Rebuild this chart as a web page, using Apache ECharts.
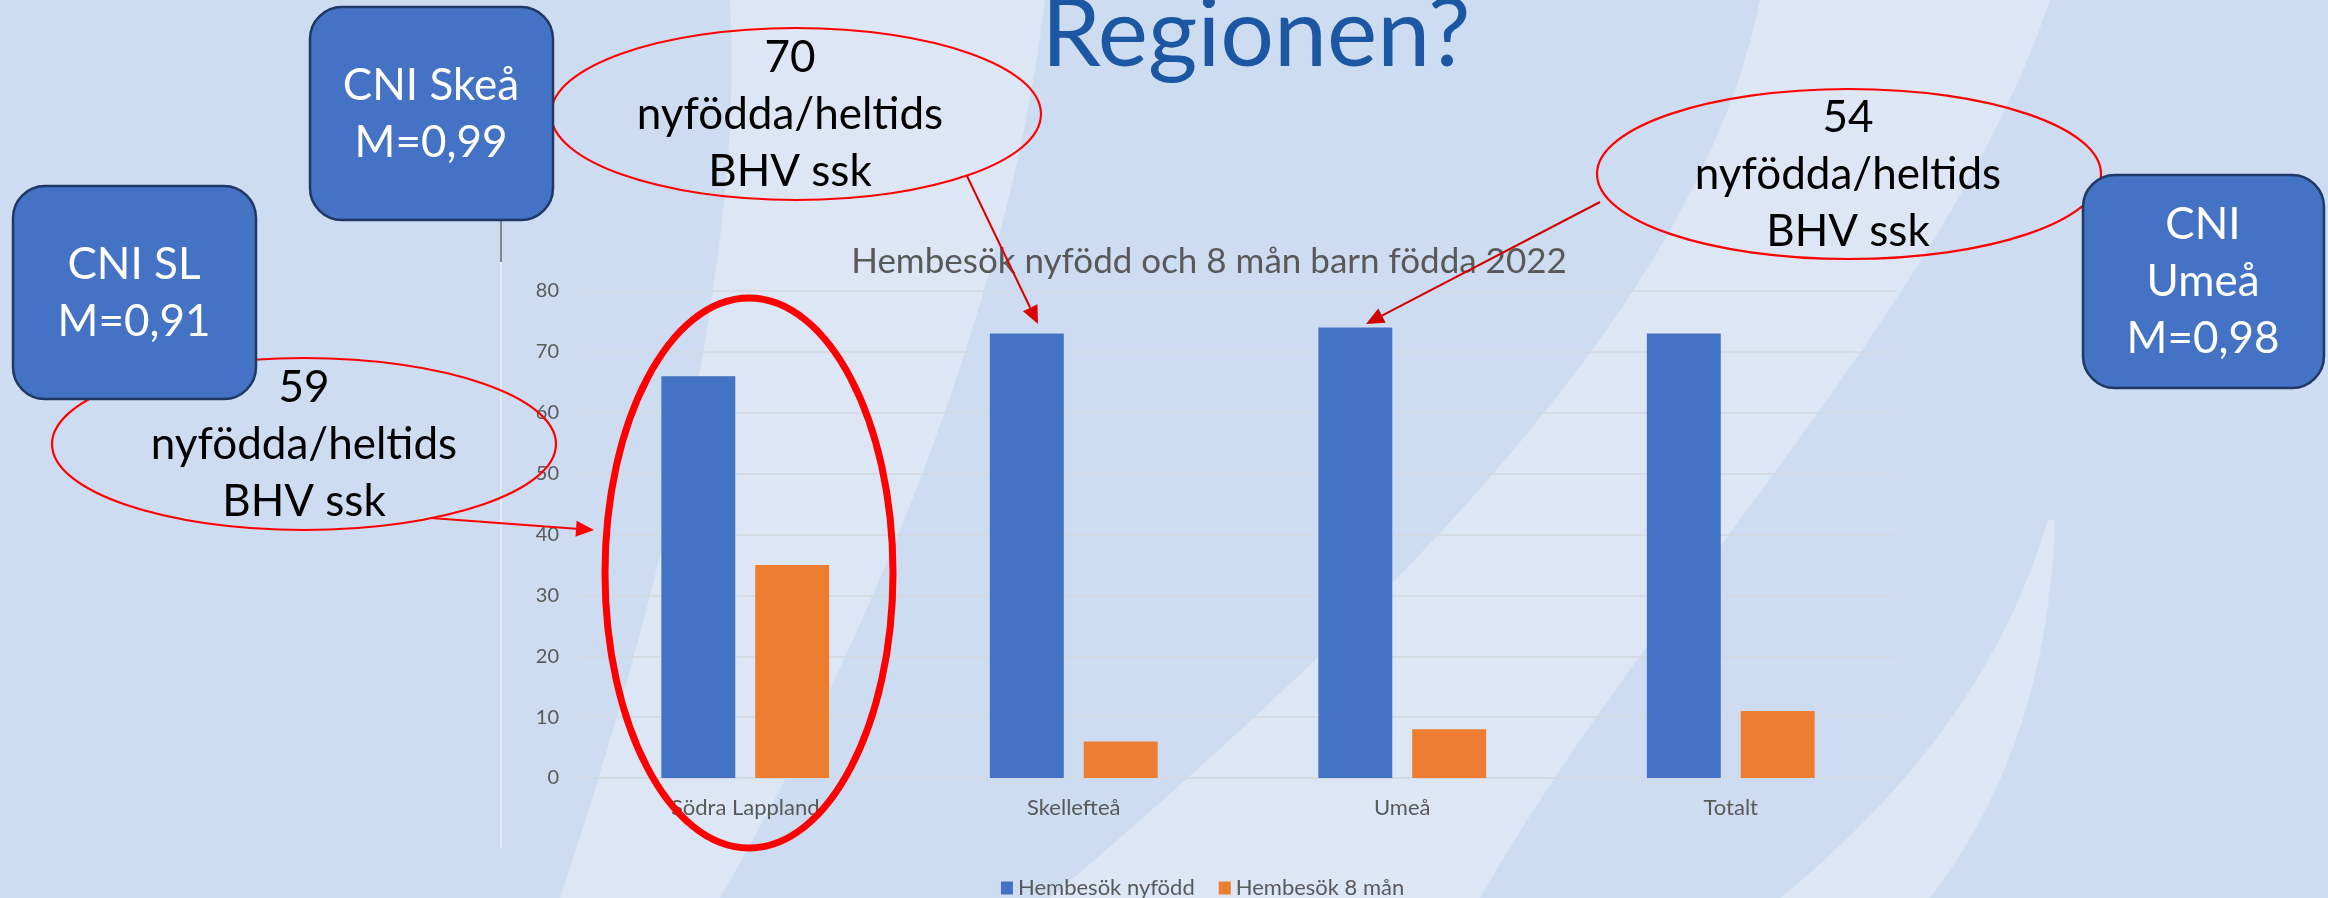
<!DOCTYPE html>
<html>
<head>
<meta charset="utf-8">
<title>Hembesök nyfödd och 8 mån</title>
<script src="https://cdn.jsdelivr.net/npm/echarts@6.0.0/dist/echarts.min.js"></script>
<style>
	html, body { margin: 0; padding: 0; background: #cedcf1; }
	#chart { width: 2328px; height: 898px; }
</style>
</head>
<body>
<div id="chart"></div>
<script>
// data
var categories = ['Södra Lappland', 'Skellefteå', 'Umeå', 'Totalt'];
var seriesNames = ['Hembesök nyfödd', 'Hembesök 8 mån'];
var hembesokNyfodd = [66, 73, 74, 73];
var hembesok8man = [35, 6, 8, 11];
var yMin = 0, yMax = 80, yStep = 10;
var chartTitle = 'Hembesök nyfödd och 8 mån barn födda 2022';
var slideTitle = 'Regionen?';

(function() {
	'use strict';

	var FONT = 'Lato, "Open Sans", sans-serif',
		GREY = '#595959',
		RED = '#ff0000';

	// bezier sampling for the background swooshes
	function bez(p, t) {
		var a = (1 - t) * (1 - t) * (1 - t), b = 3 * (1 - t) * (1 - t) * t,
			c = 3 * (1 - t) * t * t, d = t * t * t;
		return [a * p[0][0] + b * p[1][0] + c * p[2][0] + d * p[3][0],
			a * p[0][1] + b * p[1][1] + c * p[2][1] + d * p[3][1]];
	}
	function band(l, r) {
		var pts = [], i;
		for (i = 0; i <= 24; i++) pts.push(bez(l, i / 24));
		for (i = 24; i >= 0; i--) pts.push(bez(r, i / 24));
		return {
			type: 'polygon', z: -20, silent: true,
			shape: { points: pts },
			style: { fill: '#dce6f4' }
		};
	}

	function arrow(x1, y1, x2, y2, color) {
		var dx = x2 - x1, dy = y2 - y1,
			len = Math.sqrt(dx * dx + dy * dy),
			ux = dx / len, uy = dy / len,
			hl = 18, hw = 8,
			bx = x2 - ux * hl, by = y2 - uy * hl;
		return [{
			type: 'line', z: 30, silent: true,
			shape: { x1: x1, y1: y1, x2: bx, y2: by },
			style: { stroke: color, lineWidth: 2 }
		}, {
			type: 'polygon', z: 30, silent: true,
			shape: { points: [[x2, y2], [bx - uy * hw, by + ux * hw], [bx + uy * hw, by - ux * hw]] },
			style: { fill: color }
		}];
	}

	function label(text, x, y, color, size, weight) {
		return {
			type: 'text', z: 40, silent: true,
			style: {
				text: text, x: x, y: y,
				fill: color,
				fontSize: size || 44,
				fontFamily: FONT,
				fontWeight: weight || 'normal',
				lineHeight: 57,
				align: 'center', verticalAlign: 'middle',
				textAlign: 'center', textVerticalAlign: 'middle'
			}
		};
	}

	function box(x, y, w, h) {
		return {
			type: 'rect', z: 35, silent: true,
			shape: { x: x, y: y, width: w, height: h, r: 32 },
			style: { fill: '#4472c4', stroke: '#203864', lineWidth: 2.5 }
		};
	}

	function oval(cx, cy, rx, ry, w) {
		return {
			type: 'ellipse', z: 25, silent: true,
			shape: { cx: cx, cy: cy, rx: rx, ry: ry },
			style: { fill: 'none', stroke: RED, lineWidth: w || 2.2 }
		};
	}

	var graphics = [
		band([[730, 0], [745, 250], [660, 600], [560, 898]], [[1045, 0], [1010, 300], [870, 640], [720, 898]]),
		band([[1760, 0], [1700, 300], [1400, 600], [1050, 898]], [[2050, 0], [1950, 300], [1650, 600], [1480, 898]]),
		band([[2048, 520], [2000, 680], [1900, 800], [1780, 898]], [[2055, 520], [2050, 700], [1990, 820], [1930, 898]]),
		// kant på inklistrad diagrambild
		{
			type: 'line', z: -5, silent: true,
			shape: { x1: 501, y1: 220, x2: 501, y2: 848 },
			style: { stroke: 'rgba(255,255,255,0.75)', lineWidth: 1 }
		},
		{
			type: 'line', z: -4, silent: true,
			shape: { x1: 501, y1: 220, x2: 501, y2: 262 },
			style: { stroke: '#222', lineWidth: 1 }
		},
		label(slideTitle, 1256, 35, '#1b57a3', 95),

		oval(796, 114, 245, 86),
		oval(1849, 174, 252, 85),
		oval(304, 444, 252, 86),
		oval(749, 573, 144, 275, 7),

		box(310, 7, 243, 213),
		box(13, 186, 243, 213),
		box(2083, 175, 241, 213),

		label('CNI Skeå\nM=0,99', 431, 114, '#fff'),
		label('CNI SL\nM=0,91', 134, 293, '#fff'),
		label('CNI\nUmeå\nM=0,98', 2203, 282, '#fff'),
		label('70\nnyfödda/heltids\nBHV ssk', 790, 115, '#000'),
		label('59\nnyfödda/heltids\nBHV ssk', 304, 445, '#000'),
		label('54\nnyfödda/heltids\nBHV ssk', 1848, 175, '#000')
	]
		.concat(arrow(967, 176, 1038, 324, '#dd0000'))
		.concat(arrow(1600, 202, 1366, 324, '#d00000'))
		.concat(arrow(431, 518, 594, 530, RED));

	var chart = echarts.init(document.getElementById('chart'));
	chart.setOption({
		backgroundColor: '#cedcf1',
		animation: false,
		title: {
			text: chartTitle,
			left: 1204,
			top: 239,
			textAlign: 'center',
			textStyle: { color: GREY, fontSize: 35, fontWeight: 'normal', fontFamily: FONT }
		},
		legend: {
			data: seriesNames,
			left: 996,
			top: 872,
			itemWidth: 12,
			itemHeight: 13,
			itemGap: 24,
			icon: 'rect',
			textStyle: { color: GREY, fontSize: 22, fontFamily: FONT }
		},
		grid: {
			left: 581, right: 433, top: 291, bottom: 120,
			containLabel: false,
			outerBoundsMode: 'none'
		},
		xAxis: {
			type: 'category',
			data: categories,
			axisTick: { show: false },
			axisLine: { lineStyle: { color: '#d3d9e2', width: 1.5 } },
			axisLabel: { color: GREY, fontSize: 22, fontFamily: FONT, margin: 19 }
		},
		yAxis: {
			type: 'value',
			min: yMin, max: yMax, interval: yStep,
			axisLine: { show: false },
			axisTick: { show: false },
			axisLabel: { color: GREY, fontSize: 20, fontFamily: FONT, margin: 22 },
			splitLine: { lineStyle: { color: '#d3d9e2', width: 1.5 } }
		},
		series: [{
			name: seriesNames[0],
			type: 'bar',
			data: hembesokNyfodd,
			barWidth: '22.5%',
			barGap: '27%',
			itemStyle: { color: '#4472c4' },
			emphasis: { disabled: true }
		}, {
			name: seriesNames[1],
			type: 'bar',
			data: hembesok8man,
			barWidth: '22.5%',
			barGap: '27%',
			itemStyle: { color: '#ed7d31' },
			emphasis: { disabled: true }
		}],
		graphic: graphics
	});
})();
</script>
</body>
</html>
